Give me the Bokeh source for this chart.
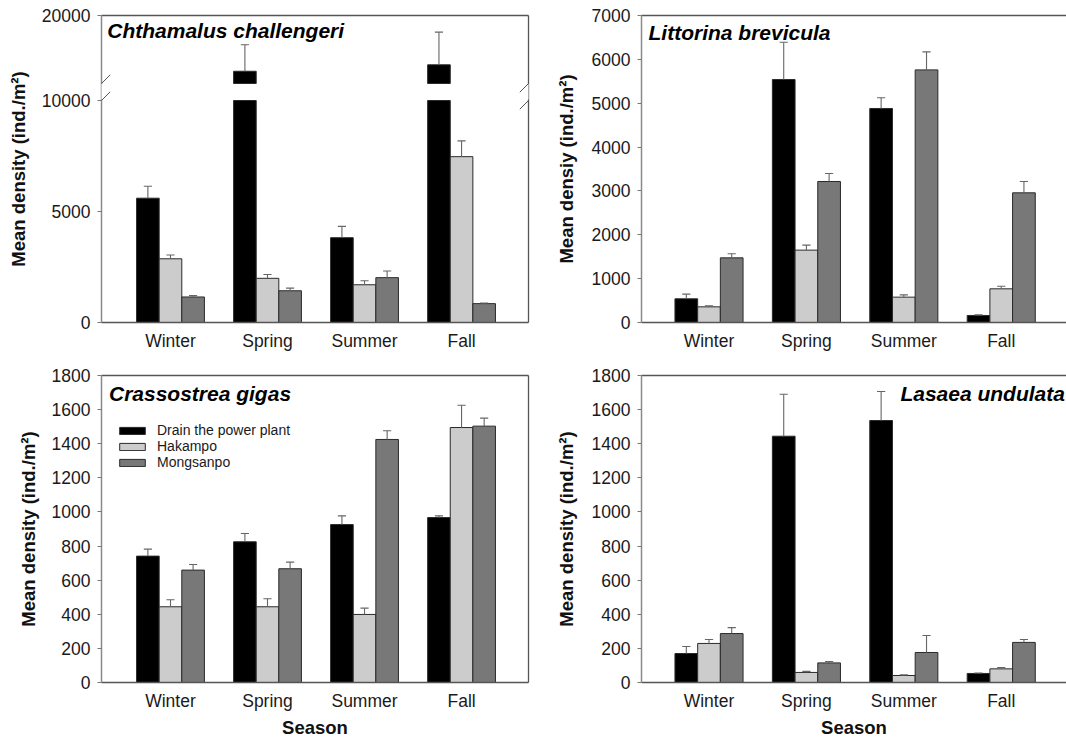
import numpy as np
from bokeh.plotting import figure
from bokeh.models import (Range1d, LinearAxis, FixedTicker, ColumnDataSource, Legend,
                          LegendItem, Label, BoxAnnotation, Arrow)
from bokeh.layouts import column, row
from bokeh.embed import file_html
from bokeh.resources import INLINE

# ---------------- data ----------------
seasons = ["Winter", "Spring", "Summer", "Fall"]
sites = ["Drain the power plant", "Hakampo", "Mongsanpo"]

# Chthamalus challengeri
chth_drain = [5600, 11800, 3820, 12750]
chth_drain_se = [540, 3900, 510, 4800]
chth_hak = [2870, 1990, 1700, 7470]
chth_hak_se = [170, 170, 180, 710]
chth_mong = [1150, 1430, 2020, 850]
chth_mong_se = [60, 120, 300, 30]

# Littorina brevicula
litt_drain = [540, 5540, 4880, 160]
litt_drain_se = [106, 850, 245, 15]
litt_hak = [357, 1650, 578, 768]
litt_hak_se = [23, 115, 53, 60]
litt_mong = [1474, 3215, 5760, 2957]
litt_mong_se = [92, 182, 410, 258]

# Crassostrea gigas
cras_drain = [741, 825, 926, 967]
cras_drain_se = [41, 49, 51, 10]
cras_hak = [444, 444, 399, 1495]
cras_hak_se = [41, 47, 37, 131]
cras_mong = [659, 667, 1425, 1503]
cras_mong_se = [33, 39, 51, 47]

# Lasaea undulata
lasa_drain = [170, 1444, 1536, 53]
lasa_drain_se = [41, 246, 170, 3]
lasa_hak = [229, 59, 41, 80]
lasa_hak_se = [23, 6, 4, 8]
lasa_mong = [287, 115, 176, 235]
lasa_mong_se = [35, 8, 100, 17]

# broken axis of the first panel
break_at = 10000
upper_top = 20000

# ---------------- style ----------------
FONT = "Liberation Sans"
COLORS = ["#000000", "#cccccc", "#787878"]
BAR_LINE = "#2a2a2a"
ERR = "#666666"
BW = 0.233
OFFS = [-BW, 0.0, BW]
CAP = 0.042
TICK_FS = "17.5px"
LAB_FS = "18.5px"
TITLE_FS = "21px"

XR_L = (-0.711, 3.69)
XR_R = (-0.693, 3.670)


def border_axis(p, side):
    ax = LinearAxis(ticker=FixedTicker(ticks=[]), axis_line_color="#555555",
                    axis_line_width=1.3, major_tick_line_color=None,
                    minor_tick_line_color=None, major_label_text_font_size="0px")
    p.add_layout(ax, side)


def make_fig(width, height, xr, yr, bl, br, bt, bb, yticks, ylabel, xlabel=None,
             top=True, right=True, ylab_standoff=11):
    p = figure(width=width, height=height, x_range=Range1d(*xr), y_range=Range1d(*yr),
               output_backend="svg", toolbar_location=None,
               min_border_left=bl, min_border_right=br, min_border_top=bt,
               min_border_bottom=bb)
    p.outline_line_color = None
    p.grid.visible = False
    p.background_fill_color = "white"
    p.border_fill_color = "white"

    xa = p.xaxis[0]
    xa.ticker = FixedTicker(ticks=list(range(len(seasons))))
    xa.major_label_overrides = {i: s for i, s in enumerate(seasons)}
    xa.axis_line_color = "#555555"
    xa.axis_line_width = 1.5
    xa.major_tick_line_color = None
    xa.minor_tick_line_color = None
    xa.major_tick_out = 0
    xa.major_tick_in = 0
    xa.major_label_standoff = 8
    xa.major_label_text_font = FONT
    xa.major_label_text_font_size = TICK_FS
    xa.major_label_text_color = "#1a1a1a"
    if xlabel:
        xa.axis_label = xlabel
        xa.axis_label_text_font = FONT
        xa.axis_label_text_font_size = LAB_FS
        xa.axis_label_text_font_style = "bold"
        xa.axis_label_text_color = "#111111"
        xa.axis_label_standoff = 3

    ya = p.yaxis[0]
    ya.ticker = FixedTicker(ticks=yticks)
    ya.axis_line_color = "#8a8a8a"
    ya.axis_line_width = 1.5
    ya.major_tick_out = 4
    ya.major_tick_in = 0
    ya.major_tick_line_color = "#777777"
    ya.minor_tick_line_color = None
    ya.major_label_standoff = 7
    ya.major_label_text_font = FONT
    ya.major_label_text_font_size = TICK_FS
    ya.major_label_text_color = "#1a1a1a"
    ya.axis_label = ylabel
    ya.axis_label_text_font = FONT
    ya.axis_label_text_font_size = LAB_FS
    ya.axis_label_text_font_style = "bold"
    ya.axis_label_text_color = "#111111"
    ya.axis_label_standoff = ylab_standoff

    if top:
        border_axis(p, "above")
    if right:
        border_axis(p, "right")
    return p


def add_bars(p, xs, bottoms, tops, color, rn="default"):
    src = ColumnDataSource(dict(x=xs, bottom=bottoms, top=tops))
    return p.vbar(x="x", width=BW, bottom="bottom", top="top", source=src,
                  fill_color=color, line_color=BAR_LINE, line_width=1, y_range_name=rn)


def add_err(p, xs, tops, errs, rn="default"):
    if not xs:
        return
    src = ColumnDataSource(dict(x=xs, y0=tops, y1=[t + e for t, e in zip(tops, errs)],
                                xl=[x - CAP for x in xs], xr=[x + CAP for x in xs]))
    p.segment(x0="x", y0="y0", x1="x", y1="y1", source=src, line_color=ERR,
              line_width=1.1, y_range_name=rn)
    p.segment(x0="xl", y0="y1", x1="xr", y1="y1", source=src, line_color=ERR,
              line_width=1.1, y_range_name=rn)


def simple_panel(p, series):
    rends = []
    for k, (vals, errs) in enumerate(series):
        xs = [i + OFFS[k] for i in range(len(vals))]
        rends.append(add_bars(p, xs, [0] * len(vals), vals, COLORS[k]))
    for k, (vals, errs) in enumerate(series):
        xs = [i + OFFS[k] for i in range(len(vals))]
        add_err(p, xs, vals, errs)
    return rends


def title(p, text, x, y, align="left"):
    p.add_layout(Label(x=x, y=y, text=text, text_font=FONT, text_font_size=TITLE_FS,
                       text_font_style="bold italic", text_color="#000000",
                       text_align=align, text_baseline="alphabetic"))


YLAB = "Mean density (ind./m\u00b2)"

# ---------------- panel 1 : broken axis ----------------
# frame 307 px tall; lower part 0..10000 over 222 px, upper part 10000..20000 over 68 px
px_low = 222 / break_at
low_top = break_at + 85 / px_low
px_up = 68 / (upper_top - break_at)
up_bottom = upper_top - 307 / px_up

p1 = make_fig(540, 360, XR_L, (0, low_top), 101, 12, 15, 38,
              [0, 5000, break_at, low_top], YLAB, ylab_standoff=10)
p1.yaxis[0].major_label_overrides = {low_top: str(upper_top)}
p1.extra_y_ranges = {"upper": Range1d(up_bottom, upper_top)}

chth = [(chth_drain, chth_drain_se), (chth_hak, chth_hak_se), (chth_mong, chth_mong_se)]
for k, (vals, errs) in enumerate(chth):
    xs = [i + OFFS[k] for i in range(4)]
    add_bars(p1, xs, [0] * 4, [min(v, break_at) for v in vals], COLORS[k])
    up = [i for i, v in enumerate(vals) if v > break_at]
    if up:
        add_bars(p1, [xs[i] for i in up], [break_at] * len(up), [vals[i] for i in up],
                 COLORS[k], "upper")
for k, (vals, errs) in enumerate(chth):
    xs = [i + OFFS[k] for i in range(4)]
    lo = [i for i, v in enumerate(vals) if v <= break_at]
    up = [i for i, v in enumerate(vals) if v > break_at]
    add_err(p1, [xs[i] for i in lo], [vals[i] for i in lo], [errs[i] for i in lo])
    add_err(p1, [xs[i] for i in up], [vals[i] for i in up], [errs[i] for i in up], "upper")

# gap in the axis lines and the break marks
gap_top = break_at + 17 / px_low
for xe in XR_L:
    p1.add_layout(BoxAnnotation(left=xe - 0.06, right=xe + 0.06, bottom=break_at + 40,
                                top=gap_top - 20, fill_color="white", fill_alpha=1.0,
                                line_color=None))
    dx = 8.7 / 97.0
    p1.add_layout(Arrow(end=None, x_start=xe - dx, y_start=break_at - 8.7 / px_low,
                        x_end=xe + dx, y_end=break_at + 8.7 / px_low,
                        line_color="#555555", line_width=1))
    p1.add_layout(Arrow(end=None, x_start=xe - dx, y_start=break_at - 8.7 / px_up,
                        x_end=xe + dx, y_end=break_at + 8.7 / px_up,
                        line_color="#555555", line_width=1, y_range_name="upper"))

title(p1, "Chthamalus challengeri", -0.652, (322 - 29.5) / px_low)

# ---------------- panel 2 ----------------
p2 = make_fig(526, 360, XR_R, (0, 7000), 101, 0, 15, 38,
              list(range(0, 7001, 1000)), "Mean densiy (ind./m\u00b2)", right=False,
              ylab_standoff=12)
simple_panel(p2, [(litt_drain, litt_drain_se), (litt_hak, litt_hak_se), (litt_mong, litt_mong_se)])
title(p2, "Littorina brevicula", -0.621, 7000 * (322 - 32) / 307)

# ---------------- panel 3 ----------------
p3 = make_fig(540, 380, XR_L, (0, 1800), 101, 12, 15, 58,
              list(range(0, 1801, 200)), YLAB, xlabel="Season", ylab_standoff=10)
r3 = simple_panel(p3, [(cras_drain, cras_drain_se), (cras_hak, cras_hak_se),
                       (cras_mong, cras_mong_se)])
title(p3, "Crassostrea gigas", -0.634, 1800 * (682 - 393) / 307)
leg = Legend(items=[LegendItem(label=s, renderers=[r]) for s, r in zip(sites, r3)],
             location=(15, 212), glyph_width=32, glyph_height=9, label_height=16,
             spacing=0, padding=0, margin=0, border_line_color=None,
             background_fill_alpha=0, label_standoff=9, label_text_font=FONT,
             label_text_font_size="14px", label_text_color="#1a1a1a")
p3.add_layout(leg)

# ---------------- panel 4 ----------------
p4 = make_fig(526, 380, XR_R, (0, 1800), 101, 0, 15, 58,
              list(range(0, 1801, 200)), YLAB, xlabel="Season", right=False,
              ylab_standoff=12)
simple_panel(p4, [(lasa_drain, lasa_drain_se), (lasa_hak, lasa_hak_se), (lasa_mong, lasa_mong_se)])
title(p4, "Lasaea undulata", 3.654, 1800 * (682 - 392.5) / 307, align="right")

layout = column(row(p1, p2), row(p3, p4))
open("out.html", "w").write(file_html(layout, INLINE))
